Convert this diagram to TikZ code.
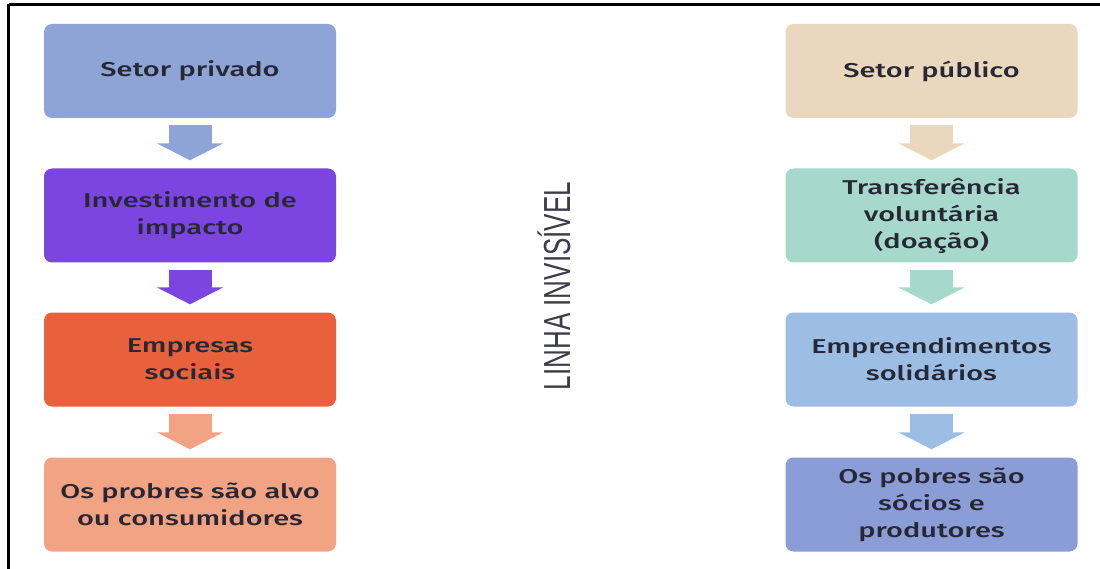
\documentclass[tikz,border=0pt]{standalone}
\usepackage{fontspec}
\setmainfont{Fira Sans}[UprightFont=* Medium, FakeStretch=1.45]
\newfontfamily\narrowfont{Liberation Sans}
\usetikzlibrary{arrows.meta}

\definecolor{privado}{RGB}{143,164,214}
\definecolor{impacto}{RGB}{124,68,224}
\definecolor{empresas}{RGB}{232,96,60}
\definecolor{probres}{RGB}{242,163,132}
\definecolor{publico}{RGB}{234,216,190}
\definecolor{doacao}{RGB}{166,216,204}
\definecolor{solidarios}{RGB}{157,190,228}
\definecolor{socios}{RGB}{139,157,214}
\definecolor{textodark}{RGB}{40,40,52}

\begin{document}
\begin{tikzpicture}[x=1pt,y=-1pt,
    caixa/.style={rounded corners=8pt, minimum width=292pt, minimum height=94pt,
      align=center, text=textodark, font=\fontsize{20}{27}\selectfont, inner sep=0pt},
    seta/.style={line width=43pt, -{Triangle[length=17pt,width=66pt]},
      shorten <=7pt, shorten >=8pt}]

    \useasboundingbox (0,0) rectangle (1100,569);
    % 边框(上线和左线)
    \draw[line width=2.5pt] (8.5,4.5) -- (1100,4.5);
    \draw[line width=2.5pt] (8.5,4.5) -- (8.5,569);

    % 左列:私营部门
    \node[caixa, fill=privado] (p1) at (190,71) {Setor privado};
    \node[caixa, fill=impacto] (p2) at (190,215.5) {Investimento de\\impacto};
    \node[caixa, fill=empresas] (p3) at (190,359.5) {Empresas\\sociais};
    \node[caixa, fill=probres] (p4) at (190,504.5) {Os probres são alvo\\ou consumidores};
    % 左列箭头
    \draw[seta, privado] (p1) -- (p2);
    \draw[seta, impacto] (p2) -- (p3);
    \draw[seta, probres] (p3) -- (p4);

    % 中间的竖排文字
    \node[rotate=90, text=textodark!90, font=\narrowfont\fontsize{26}{26}\selectfont]
      (linha) at (554,286) {\scalebox{1}[1.45]{LINHA INVISÍVEL}};

    % 右列:公共部门
    \node[caixa, fill=publico] (q1) at (931.5,71) {Setor público};
    \node[caixa, fill=doacao] (q2) at (931.5,215.5) {Transferência\\voluntária\\(doação)};
    \node[caixa, fill=solidarios] (q3) at (931.5,359.5) {Empreendimentos\\solidários};
    \node[caixa, fill=socios] (q4) at (931.5,504.5) {Os pobres são\\sócios e\\produtores};
    % 右列箭头
    \draw[seta, publico] (q1) -- (q2);
    \draw[seta, doacao] (q2) -- (q3);
    \draw[seta, solidarios] (q3) -- (q4);
\end{tikzpicture}
\end{document}
